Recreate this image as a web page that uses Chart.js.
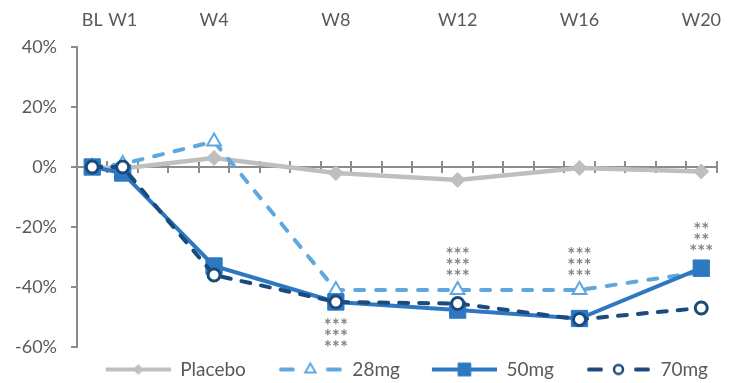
<!DOCTYPE html>
<html>
<head>
<meta charset="utf-8">
<script src="https://cdn.jsdelivr.net/npm/chart.js@4.4.1/dist/chart.umd.min.js"></script>
<style>
  html, body { margin: 0; padding: 0; background: #fff; }
  #wrap { width: 729px; height: 383px; }
</style>
</head>
<body>
<div id="wrap"><canvas id="chart"></canvas></div>
<script>
const weeks = [0, 1, 4, 8, 12, 16, 20];
const weekLabels = ["BL", "W1", "W4", "W8", "W12", "W16", "W20"];

const placebo = [0, -0.5, 3, -2, -4.3, -0.3, -1.5];
const mg28 = [0, 1, 8.5, -41, -41, -41, -35];
const mg50 = [0, -2, -33, -45, -47.7, -50.5, -33.7];
const mg70 = [0, 0, -36, -45, -45.5, -50.8, -47];

// significance stars above/below the points
const starWeeks = [8, 12, 16, 20];
const starRows = [["***", "***", "***"], ["***", "***", "***"], ["***", "***", "***"], ["**", "**", "***"]];
const starCenter = [-55, -31.5, -31.5, -23];

const GREY = "#BFBFBF";
const LIGHT = "#5FA8DF";
const MID = "#2E78C2";
const NAVY = "#1B4A7C";
const AXIS = "#8C8C8C";
const TEXT = "#595959";
const FONT = "Lato";

const toPts = arr => arr.map((v, i) => ({ x: weeks[i], y: v }));

// legend swatch: empty gap on the left, then line + marker
const GAP = 19;
const SW = GAP + 65;
function legendSample(color, dashed, style, fill, radius, bw) {
  const c = document.createElement("canvas");
  c.width = SW;
  c.height = 20;
  const g = c.getContext("2d");
  g.strokeStyle = color;
  g.lineWidth = 4;
  g.beginPath();
  if (dashed) {
    g.lineCap = "round";
    g.moveTo(GAP + 3, 10); g.lineTo(GAP + 15, 10);
    g.moveTo(SW - 15, 10); g.lineTo(SW - 3, 10);
  } else {
    g.moveTo(GAP, 10); g.lineTo(SW, 10);
  }
  g.stroke();
  g.fillStyle = fill;
  g.strokeStyle = color;
  g.lineWidth = bw;
  Chart.helpers.drawPoint(g, { pointStyle: style, radius: radius, borderWidth: bw }, GAP + 32.5, 10);
  return c;
}

const legendImgs = [
  legendSample(GREY, false, "rectRot", GREY, 5, 1),
  legendSample(LIGHT, true, "triangle", "#fff", 6, 2),
  legendSample(MID, false, "rect", MID, 9, 1),
  legendSample(NAVY, true, "circle", "#fff", 4.5, 2.5),
];

const starsPlugin = {
  id: "stars",
  afterDatasetsDraw(chart) {
    const { ctx, scales } = chart;
    ctx.save();
    ctx.font = "bold 19px " + FONT;
    ctx.fillStyle = "#858585";
    ctx.textAlign = "center";
    ctx.textBaseline = "alphabetic";
    const m = ctx.measureText("*");
    const off = (m.actualBoundingBoxAscent - m.actualBoundingBoxDescent) / 2;
    starWeeks.forEach((w, i) => {
      const x = scales.x.getPixelForValue(w);
      const yc = scales.y.getPixelForValue(starCenter[i]);
      const rows = starRows[i];
      rows.forEach((r, j) => {
        const y = yc + (j - (rows.length - 1) / 2) * 11;
        ctx.fillText(r, x, y + off);
      });
    });
    ctx.restore();
  }
};

const halfTicks = s => {
  const t = [];
  for (let v = s.min; v <= s.max; v += 1) t.push({ value: v });
  s.ticks = t;
};

new Chart(document.getElementById("chart"), {
  type: "line",
  data: {
    datasets: [
      {
        label: "Placebo", data: toPts(placebo), order: 4,
        borderColor: GREY, borderWidth: 4.5,
        pointStyle: "rectRot", pointRadius: 7.5, pointBackgroundColor: GREY, pointBorderColor: GREY, pointBorderWidth: 1,
      },
      {
        label: "28mg", data: toPts(mg28), order: 3,
        borderColor: LIGHT, borderWidth: 4, borderDash: [9, 12], borderCapStyle: "round",
        pointStyle: "triangle", pointRadius: 8, pointBackgroundColor: "#fff", pointBorderColor: LIGHT, pointBorderWidth: 2,
      },
      {
        label: "50mg", data: toPts(mg50), order: 2,
        borderColor: MID, borderWidth: 4,
        pointStyle: "rect", pointRadius: 11.5, pointBackgroundColor: MID, pointBorderColor: MID, pointBorderWidth: 1,
      },
      {
        label: "70mg", data: toPts(mg70), order: 1,
        borderColor: NAVY, borderWidth: 4, borderDash: [9, 11], borderCapStyle: "round",
        pointStyle: "circle", pointRadius: 6, pointBackgroundColor: "#fff", pointBorderColor: NAVY, pointBorderWidth: 3,
      },
    ],
  },
  options: {
    responsive: true,
    maintainAspectRatio: false,
    animation: false,
    layout: { padding: { left: 0, right: 8, top: 0, bottom: -6 } },
    plugins: {
      tooltip: { enabled: false },
      legend: {
        position: "bottom",
        align: "end",
        labels: {
          usePointStyle: true,
          pointStyleWidth: SW,
          padding: 13,
          color: TEXT,
          font: { family: FONT, size: 19 },
          generateLabels: chart => chart.data.datasets.map((ds, i) => ({
            text: ds.label,
            pointStyle: legendImgs[i],
            fontColor: TEXT,
            datasetIndex: i,
            hidden: false,
            lineWidth: 0,
            strokeStyle: "transparent",
            fillStyle: "transparent",
          })),
        },
      },
    },
    scales: {
      x: {
        type: "linear",
        min: -0.5, max: 20.5,
        position: { y: 0 },
        afterBuildTicks: halfTicks,
        ticks: { display: false },
        grid: { drawOnChartArea: false, drawTicks: true, tickLength: 5, color: AXIS, lineWidth: 2 },
        border: { display: true, color: AXIS, width: 2 },
      },
      xUp: {
        type: "linear",
        axis: "x",
        min: -0.5, max: 20.5,
        position: { y: 0 },
        afterBuildTicks: halfTicks,
        ticks: { display: false },
        grid: { drawOnChartArea: false, drawTicks: true, tickLength: -6, color: AXIS, lineWidth: 2 },
        border: { display: false },
      },
      xTop: {
        type: "linear",
        axis: "x",
        position: "top",
        min: -0.5, max: 20.5,
        afterBuildTicks: s => { s.ticks = weeks.map(v => ({ value: v })); },
        afterFit: s => { s.height = 47; s.paddingLeft = 0; s.paddingRight = 0; },
        ticks: {
          autoSkip: false, maxRotation: 0, padding: 16,
          color: TEXT, font: { family: FONT, size: 18 },
          callback: v => weekLabels[weeks.indexOf(v)],
        },
        grid: { display: false, drawTicks: false },
        border: { display: false },
      },
      y: {
        min: -60, max: 40,
        afterBuildTicks: s => {
          const t = [];
          for (let v = -60; v <= 40; v += 20) t.push({ value: v });
          s.ticks = t;
        },
        afterFit: s => { s.width = 77; s.paddingTop = 0; s.paddingBottom = 0; },
        ticks: {
          padding: 14,
          color: TEXT, font: { family: FONT, size: 18 },
          callback: v => v + "%",
        },
        grid: { drawOnChartArea: false, drawTicks: true, tickLength: 6, color: AXIS, lineWidth: 2 },
        border: { display: true, color: AXIS, width: 2 },
      },
    },
  },
  plugins: [starsPlugin],
});
</script>
</body>
</html>
